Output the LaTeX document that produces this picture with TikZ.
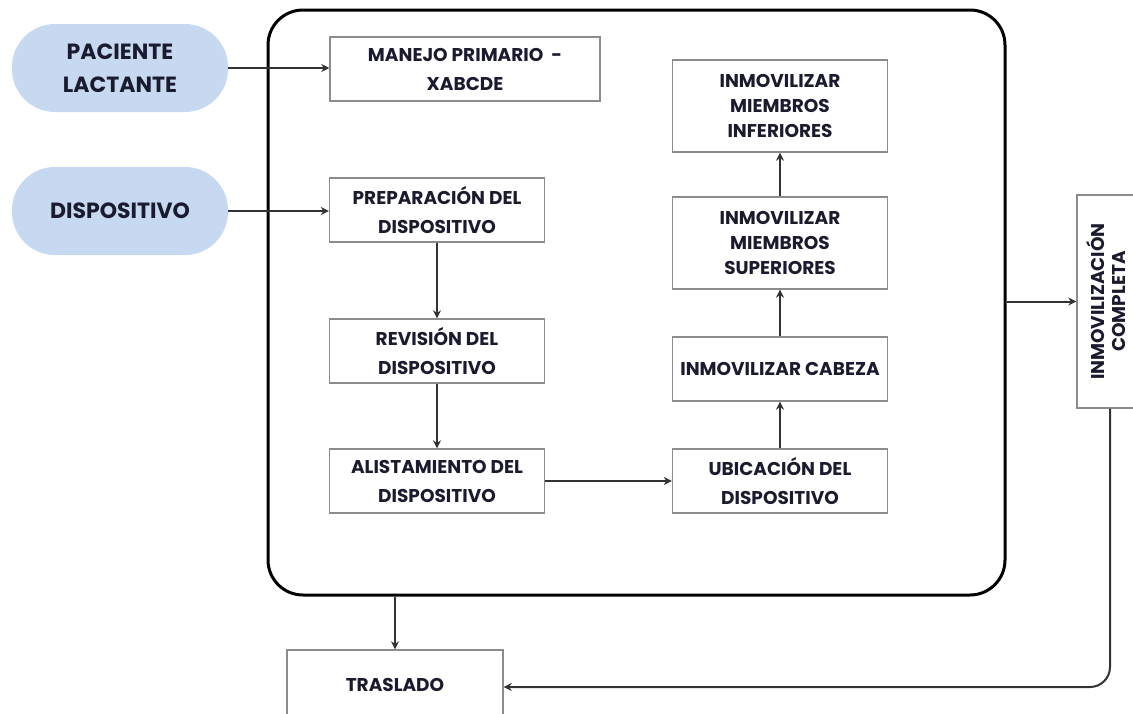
\documentclass[tikz,border=0pt]{standalone}
\usepackage{fontspec}
\setmainfont{Poppins}
\usepackage{graphicx}
\usetikzlibrary{arrows.meta}
\definecolor{pillfill}{HTML}{C6D9F1}
\definecolor{txt}{HTML}{1B1B2F}
\definecolor{boxline}{HTML}{8C8C8C}
\definecolor{connc}{HTML}{333333}
\begin{document}
\begin{tikzpicture}[x=1pt,y=-1pt,
  stepbox/.style={draw=boxline, line width=1.4pt, fill=white, minimum width=215pt, minimum height=64pt, align=center, font=\fontsize{18.5}{29}\selectfont\bfseries, text=txt, inner sep=2pt},
  tallbox/.style={stepbox, minimum height=92pt, font=\fontsize{18.5}{25}\selectfont\bfseries},
  pill/.style={fill=pillfill, rounded corners=43pt, minimum width=216pt, minimum height=88pt, align=center, font=\fontsize{22}{33}\selectfont\bfseries, text=txt},
  conn/.style={draw=connc, line width=2pt, -{Stealth[length=8pt,width=8pt]}},
]
\useasboundingbox (0,0) rectangle (1133,713);
\fill[white] (0,0) rectangle (1133,713);

\node[draw=black, line width=3pt, rounded corners=35pt, minimum width=737pt, minimum height=585pt] (frame) at (636.5,302.5) {};

\node[pill] (pac) at (120,68) {PACIENTE\\LACTANTE};
\node[pill] (disp) at (120,211) {DISPOSITIVO};

\node[stepbox, minimum width=270pt] (man) at (465,69) {MANEJO PRIMARIO\ \ -\\XABCDE};
\node[stepbox] (prep) at (437,210) {PREPARACIÓN DEL\\DISPOSITIVO};
\node[stepbox] (rev) at (437,351) {REVISIÓN DEL\\DISPOSITIVO};
\node[stepbox] (ali) at (437,481) {ALISTAMIENTO DEL\\DISPOSITIVO};
\node[stepbox] (ubi) at (780,481) {UBICACIÓN DEL\\DISPOSITIVO};
\node[stepbox] (cab) at (780,369) {INMOVILIZAR CABEZA};
\node[tallbox] (sup) at (780,243) {INMOVILIZAR\\MIEMBROS\\SUPERIORES};
\node[tallbox] (inf) at (780,106) {INMOVILIZAR\\MIEMBROS\\INFERIORES};

\node[draw=boxline, line width=1.4pt, fill=white, minimum width=66pt, minimum height=213pt, inner sep=0pt, font=\fontsize{18.5}{25}\selectfont\bfseries, text=txt] (compl) at (1110,301.5) {\rotatebox{90}{\begin{tabular}{@{}c@{}}INMOVILIZACIÓN\\[-4pt]COMPLETA\end{tabular}}};

\node[stepbox, minimum height=70pt, minimum width=216pt] (tras) at (395,685) {TRASLADO};

\draw[conn] (pac.east) -- (pac.east -| man.west);
\draw[conn] (disp.east) -- (disp.east -| prep.west);
\draw[conn] (prep) -- (rev);
\draw[conn] (rev) -- (ali);
\draw[conn] (ali) -- (ubi);
\draw[conn] (ubi) -- (cab);
\draw[conn] (cab) -- (sup);
\draw[conn] (sup) -- (inf);
\draw[conn] (frame.east |- compl.west) -- (compl.west);
\draw[conn] (tras.north |- frame.south) -- (tras.north);
\draw[conn, rounded corners=20pt] (compl.south) |- ([yshift=-2pt]tras.east);
\end{tikzpicture}
\end{document}
